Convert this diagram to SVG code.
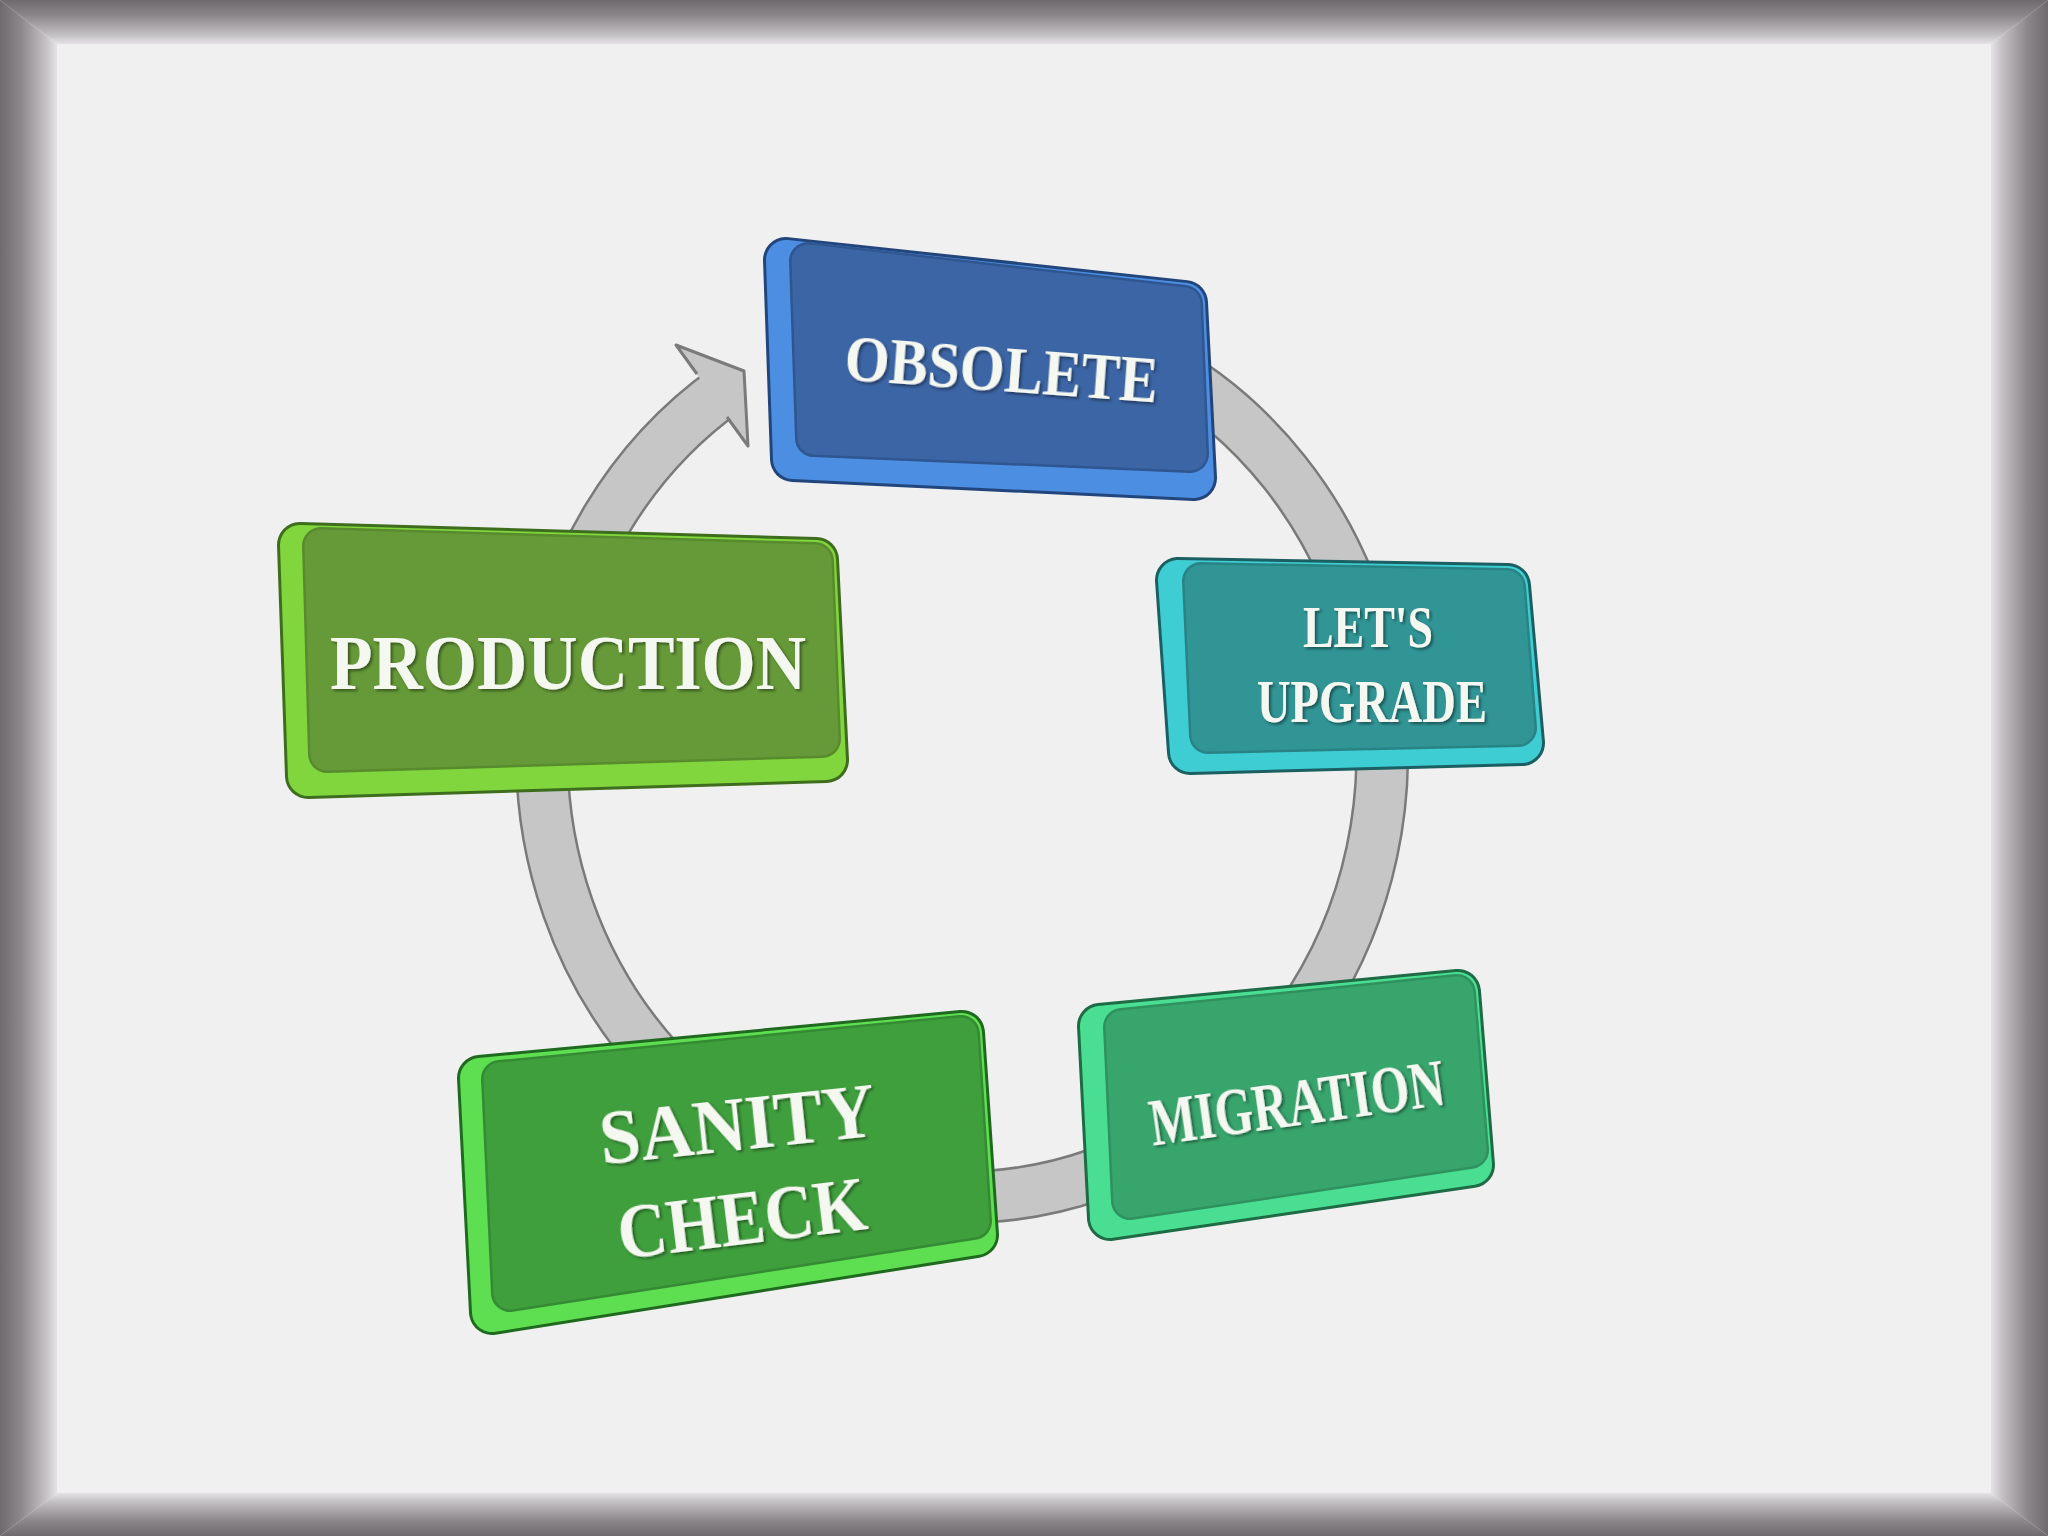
<svg xmlns="http://www.w3.org/2000/svg" width="2048" height="1536" viewBox="0 0 2048 1536">
<defs>
<style>
.lbl{font-family:"Liberation Serif","Times New Roman",serif;font-weight:bold;fill:#f5f7f1;text-anchor:middle;filter:url(#ts)}
.ring-edge{fill:none;stroke:#7a7a7a;stroke-width:54}
.ring-body{fill:none;stroke:#c6c6c6;stroke-width:49}
.rnd{stroke-linejoin:round}
</style>
<filter id="ts" x="-10%" y="-20%" width="120%" height="140%"><feDropShadow dx="2" dy="2" stdDeviation="1.5" flood-color="#000" flood-opacity="0.45"/></filter>
<linearGradient id="gTop" gradientUnits="userSpaceOnUse" x1="0" y1="0" x2="0" y2="44"><stop offset="0" stop-color="#6e6a6e"/><stop offset="0.35" stop-color="#8a868a"/><stop offset="0.8" stop-color="#c4c1c4"/><stop offset="1" stop-color="#e4e2e4"/></linearGradient>
<linearGradient id="gBot" gradientUnits="userSpaceOnUse" x1="0" y1="1536" x2="0" y2="1493"><stop offset="0" stop-color="#6e6a6e"/><stop offset="0.35" stop-color="#8a868a"/><stop offset="0.8" stop-color="#c4c1c4"/><stop offset="1" stop-color="#e4e2e4"/></linearGradient>
<linearGradient id="gLeft" gradientUnits="userSpaceOnUse" x1="0" y1="0" x2="57" y2="0"><stop offset="0" stop-color="#6e6a6e"/><stop offset="0.35" stop-color="#8a868a"/><stop offset="0.8" stop-color="#c4c1c4"/><stop offset="1" stop-color="#e4e2e4"/></linearGradient>
<linearGradient id="gRight" gradientUnits="userSpaceOnUse" x1="2048" y1="0" x2="1991" y2="0"><stop offset="0" stop-color="#6e6a6e"/><stop offset="0.35" stop-color="#8a868a"/><stop offset="0.8" stop-color="#c4c1c4"/><stop offset="1" stop-color="#e4e2e4"/></linearGradient>
</defs>

<rect x="0" y="0" width="2048" height="1536" fill="#f1f0f1"/>
<g id="frame">
<polygon points="0,0 2048,0 1991,44 57,44" fill="url(#gTop)"/>
<polygon points="0,1536 2048,1536 1991,1493 57,1493" fill="url(#gBot)"/>
<polygon points="0,0 57,44 57,1493 0,1536" fill="url(#gLeft)"/>
<polygon points="2048,0 1991,44 1991,1493 2048,1536" fill="url(#gRight)"/>
</g>

<g id="connectors">
<path class="ring-edge" d="M 1150 360 A 420 442 0 1 1 727 389"/>
<path class="ring-body" d="M 1150 360 A 420 442 0 1 1 727 389"/>
<polygon points="676,345 744,371 748,446" fill="#c6c6c6"/>
<polyline points="697,374 676,345 744,371 748,446 727,417" fill="none" stroke="#7a7a7a" stroke-width="3" stroke-linejoin="round"/>
</g>

<g id="node-obsolete">
<polygon class="rnd" points="786,260 1185,303 1194,478 793,459" fill="#22467c" stroke="#22467c" stroke-width="46"/>
<polygon class="rnd" points="786,260 1185,303 1194,478 793,459" fill="#4c8ee2" stroke="#4c8ee2" stroke-width="40"/>
<polygon class="rnd" points="808,261 1184,304 1190,454 814,438" fill="#2f5690" stroke="#2f5690" stroke-width="38"/>
<polygon class="rnd" points="808,261 1184,304 1190,454 814,438" fill="#3c65a5" stroke="#3c65a5" stroke-width="33"/>
<text class="lbl" x="1000" y="391" font-size="66" textLength="314" lengthAdjust="spacingAndGlyphs" transform="rotate(4.2 1000 391)">OBSOLETE</text>
</g>

<g id="node-production">
<polygon class="rnd" points="300,545 816,560 826,760 308,776" fill="#3f6d1e" stroke="#3f6d1e" stroke-width="46"/>
<polygon class="rnd" points="300,545 816,560 826,760 308,776" fill="#80d63c" stroke="#80d63c" stroke-width="40"/>
<polygon class="rnd" points="321,546 815,561 822,739 327,754" fill="#588a2e" stroke="#588a2e" stroke-width="38"/>
<polygon class="rnd" points="321,546 815,561 822,739 327,754" fill="#669a38" stroke="#669a38" stroke-width="33"/>
<text class="lbl" x="568" y="689" font-size="78" textLength="476" lengthAdjust="spacingAndGlyphs">PRODUCTION</text>
</g>

<g id="node-upgrade">
<polygon class="rnd" points="1178,580 1508,586 1522,743 1190,752" fill="#1b5f62" stroke="#1b5f62" stroke-width="46"/>
<polygon class="rnd" points="1178,580 1508,586 1522,743 1190,752" fill="#3ecdd2" stroke="#3ecdd2" stroke-width="40"/>
<polygon class="rnd" points="1201,581 1507,587 1518,728 1208,735" fill="#288384" stroke="#288384" stroke-width="38"/>
<polygon class="rnd" points="1201,581 1507,587 1518,728 1208,735" fill="#319596" stroke="#319596" stroke-width="33"/>
<text class="lbl" x="1368" y="647" font-size="60" textLength="130" lengthAdjust="spacingAndGlyphs">LET'S</text>
<text class="lbl" x="1372" y="722" font-size="62" textLength="230" lengthAdjust="spacingAndGlyphs">UPGRADE</text>
</g>

<g id="node-migration">
<polygon class="rnd" points="1100,1026 1458,992 1472,1165 1110,1218" fill="#1e6b45" stroke="#1e6b45" stroke-width="46"/>
<polygon class="rnd" points="1100,1026 1458,992 1472,1165 1110,1218" fill="#4ade92" stroke="#4ade92" stroke-width="40"/>
<polygon class="rnd" points="1122,1027 1457,993 1470,1150 1130,1201" fill="#2f915e" stroke="#2f915e" stroke-width="38"/>
<polygon class="rnd" points="1122,1027 1457,993 1470,1150 1130,1201" fill="#38a56d" stroke="#38a56d" stroke-width="33"/>
<text class="lbl" x="1300" y="1125" font-size="68" textLength="297" lengthAdjust="spacingAndGlyphs" transform="rotate(-8 1300 1125)">MIGRATION</text>
</g>

<g id="node-sanity">
<polygon class="rnd" points="480,1078 962,1033 976,1235 492,1312" fill="#1f6a1f" stroke="#1f6a1f" stroke-width="46"/>
<polygon class="rnd" points="480,1078 962,1033 976,1235 492,1312" fill="#5edf52" stroke="#5edf52" stroke-width="40"/>
<polygon class="rnd" points="500,1079 961,1034 973,1221 510,1293" fill="#358a34" stroke="#358a34" stroke-width="38"/>
<polygon class="rnd" points="500,1079 961,1034 973,1221 510,1293" fill="#3f9f3d" stroke="#3f9f3d" stroke-width="33"/>
<text class="lbl" x="740" y="1150" font-size="78" textLength="277" lengthAdjust="spacingAndGlyphs" transform="rotate(-6 740 1150)">SANITY</text>
<text class="lbl" x="745" y="1244" font-size="78" textLength="250" lengthAdjust="spacingAndGlyphs" transform="rotate(-7 745 1244)">CHECK</text>
</g>
</svg>
